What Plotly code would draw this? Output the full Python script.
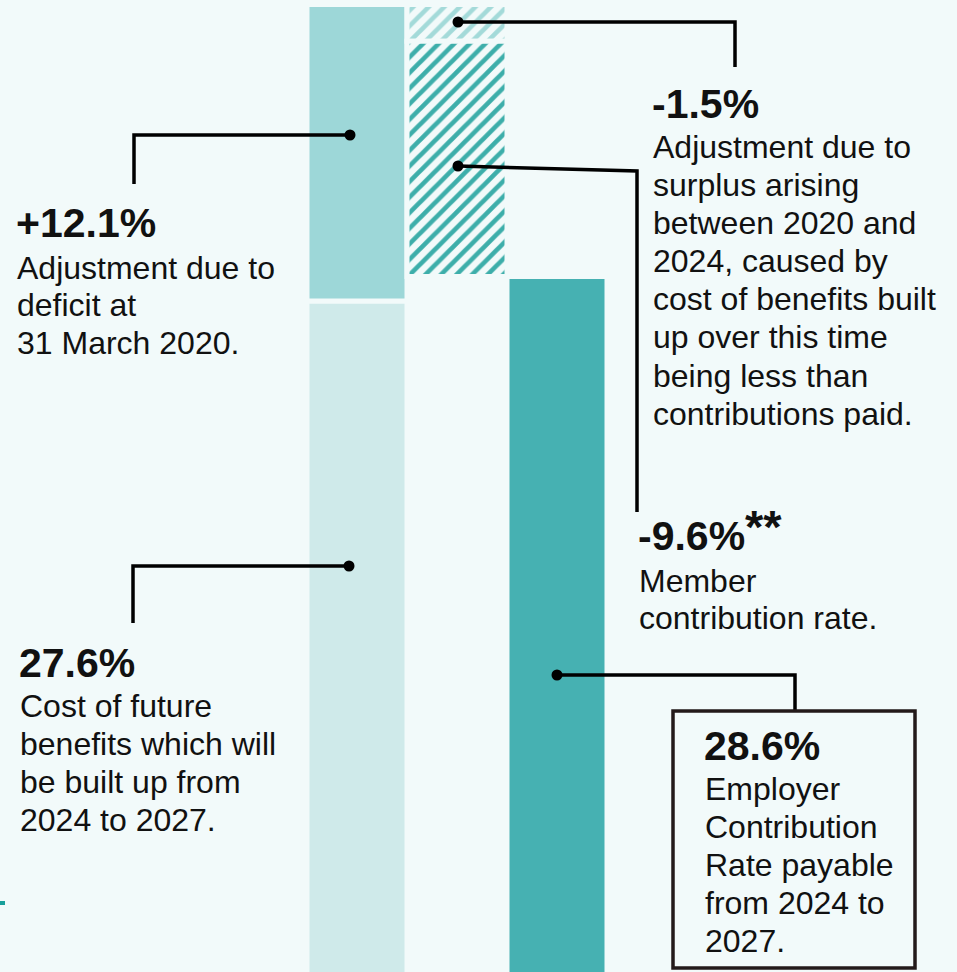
import plotly.graph_objects as go

# ---- Contribution rate build-up (% of pensionable pay) ----
future_cost = 27.6      # cost of future benefits 2024-2027
deficit_adj = 12.1      # deficit at 31 March 2020
surplus_adj = -1.5      # surplus arising 2020-2024
member_rate = -9.6      # member contribution rate
employer_rate = 28.6    # resulting employer contribution rate

W, H = 957, 972
BG = "#f2fafa"
FONT = "Liberation Sans, Arial, sans-serif"
INK = "#111111"
HEAD_SIZE = 41
BODY_SIZE = 32

# waterfall bases
top_total = future_cost + deficit_adj
surplus_base = top_total + surplus_adj
member_base = surplus_base + member_rate

fig = go.Figure()


def seg(x, base, value, color, pattern=None):
    marker = dict(color=color, line=dict(color=BG, width=5))
    if pattern:
        marker["pattern"] = dict(shape="/", fgcolor=color, bgcolor=BG,
                                 size=11, solidity=0.42, fillmode="replace")
    fig.add_trace(go.Bar(x=[x], y=[abs(value)], base=[base], width=1,
                         marker=marker, hoverinfo="skip"))


seg(0, 0, future_cost, "#cfeaea")
seg(0, future_cost, deficit_adj, "#9dd7d8")
seg(1, surplus_base, surplus_adj, "#a3dad9", pattern=True)
seg(1, member_base, member_rate, "#3daeaa", pattern=True)
seg(2, 0, employer_rate, "#46b1b2")


def px(x):
    return x / W


def py(y):
    return 1 - y / H


shapes = []


def leader(points):
    d = "M " + " L ".join(f"{px(x)},{py(y)}" for x, y in points)
    shapes.append(dict(type="path", xref="paper", yref="paper", path=d,
                       line=dict(color="#000000", width=3.5)))
    x0, y0 = points[0]
    r = 5.5
    shapes.append(dict(type="circle", xref="paper", yref="paper",
                       x0=px(x0 - r), x1=px(x0 + r), y0=py(y0 + r), y1=py(y0 - r),
                       fillcolor="#000000", line=dict(width=0)))


leader([(350, 135), (134, 135), (134, 184)])
leader([(458, 22), (735, 22), (735, 67)])
leader([(458, 166), (637, 171), (637, 512)])
leader([(349, 566), (133, 566), (133, 623)])
leader([(557, 675), (795, 675), (795, 711)])

# employer rate box
shapes.append(dict(type="rect", xref="paper", yref="paper",
                   x0=px(673), x1=px(915), y0=py(968), y1=py(711),
                   line=dict(color="#231a1a", width=3.5)))
# small teal tick at left edge
shapes.append(dict(type="rect", xref="paper", yref="paper",
                   x0=0, x1=px(5), y0=py(905), y1=py(901),
                   fillcolor="#18a09b", line=dict(width=0)))

annotations = []


def text_line(x, baseline, text, size, bold=False):
    center = baseline - 0.3465 * size
    annotations.append(dict(
        xref="paper", yref="paper", x=px(x), y=py(center),
        xanchor="left", yanchor="middle", showarrow=False,
        borderpad=0, borderwidth=0,
        text=f"<b>{text}</b>" if bold else text,
        font=dict(family=FONT, size=size, color=INK)))


def block(x, head_baseline, head, first_baseline, lines, step=38.1):
    text_line(x - 1, head_baseline, head, HEAD_SIZE, bold=True)
    for i, ln in enumerate(lines):
        text_line(x, first_baseline + i * step, ln, BODY_SIZE)


block(17, 237, f"+{deficit_adj}%", 279,
      ["Adjustment due to", "deficit at", "31 March 2020."], step=37.5)
block(653, 118, f"{surplus_adj}%", 158,
      ["Adjustment due to", "surplus arising", "between 2020 and",
       "2024, caused by", "cost of benefits built", "up over this time",
       "being less than", "contributions paid."])
block(639, 550, f"{member_rate}%", 592,
      ["Member", "contribution rate."], step=37)
block(20, 677, f"{future_cost}%", 717,
      ["Cost of future", "benefits which will", "be built up from",
       "2024 to 2027."])
block(705, 760, f"{employer_rate}%", 800,
      ["Employer", "Contribution", "Rate payable", "from 2024 to", "2027."])

# footnote marker on the member rate
annotations.append(dict(
    xref="paper", yref="paper", x=px(745), y=py(526),
    xanchor="left", yanchor="middle", showarrow=False,
    borderpad=0, borderwidth=0, text="<b>**</b>",
    font=dict(family=FONT, size=47, color=INK)))

fig.update_layout(
    width=W, height=H,
    margin=dict(l=0, r=0, t=0, b=0),
    paper_bgcolor=BG, plot_bgcolor=BG,
    barmode="overlay", showlegend=False,
    xaxis=dict(visible=False, range=[-3.57, 6.0], fixedrange=True),
    yaxis=dict(visible=False, range=[0.21, 39.88], fixedrange=True),
    shapes=shapes, annotations=annotations,
)

fig.write_html("out.html", config={"displayModeBar": False})
